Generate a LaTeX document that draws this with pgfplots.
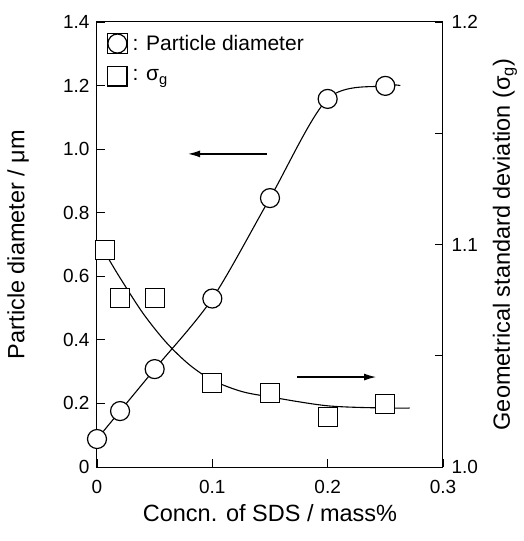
\documentclass[border=0pt]{standalone}
\usepackage{fontspec}
\setmainfont{Liberation Sans}
\usepackage{pgfplots}
\pgfplotsset{compat=1.18}
\usetikzlibrary{arrows.meta}
\begin{document}
\begin{tikzpicture}
\pgfplotsset{
  common/.style={
    scale only axis, width=346pt, height=445pt,
    xmin=0, xmax=0.3,
    tick align=inside, major tick length=8pt, minor tick length=8pt,
    every tick/.style={line width=0.9pt, black},
    axis line style={line width=1pt},
    ticklabel style={font=\fontsize{19}{19}\selectfont},
    label style={font=\fontsize{23.5}{23.5}\selectfont},
    /pgf/number format/assume math mode=true,
  }
}
\begin{axis}[common,
  ymin=0, ymax=1.4,
  xtick={0,0.1,0.2,0.3}, xticklabels={0,0.1,0.2,0.3},
  ytick={0,0.2,0.4,0.6,0.8,1.0,1.2,1.4},
  yticklabels={0,0.2,0.4,0.6,0.8,1.0,1.2,1.4},
  xtick pos=bottom, ytick pos=left,
  xticklabel style={yshift=-10pt},
  yticklabel style={xshift=-4pt},
  xlabel={Concn. of SDS / mass\%},
  ylabel={Particle diameter / μm},
  xlabel style={at={(axis description cs:0.5,-0.1034)}, anchor=center},
  ylabel style={at={(axis description cs:-0.228,0.5)}, anchor=center},
  legend style={at={(axis description cs:0.0289,0.9753)}, anchor=north west,
    draw=none, fill=none, font=\fontsize{21}{21}\selectfont,
    row sep=12pt, inner sep=0pt,
    /tikz/every odd column/.style={column sep=3pt}},
  legend image code/.code={\path (-10pt,-10pt) rectangle (10pt,10pt); \path[#1] plot coordinates {(0pt,0pt)};},
  legend cell align=left,
]
\addlegendimage{only marks, mark=*, mark size=9.5pt, mark options={fill=white, draw=black, line width=1.2pt}}
\addlegendentry{: Particle diameter}
\addlegendimage{only marks, mark=square*, mark size=9.5pt, mark options={fill=white, draw=black, line width=1.2pt}}
\addlegendentry{: σ\textsubscript{g}}
\addplot[black, line width=1.1pt, smooth, forget plot] coordinates {
(0,0.088) (0.02,0.176) (0.05,0.308) (0.1,0.53) (0.15,0.846) (0.2,1.158) (0.25,1.199) (0.263,1.2)};
\addplot[only marks, mark=*, mark size=9.5pt, mark options={fill=white, draw=black, line width=1.2pt}, forget plot] coordinates {
(0,0.088) (0.02,0.176) (0.05,0.308) (0.1,0.53) (0.15,0.846) (0.2,1.158) (0.25,1.199)};
\draw[line width=1.2pt, -{Latex[length=12pt,width=7pt]}] (axis cs:0.1474,0.985) -- (axis cs:0.079,0.985);
\draw[line width=1.2pt, -{Latex[length=12pt,width=7pt]}] (axis cs:0.1735,0.283) -- (axis cs:0.242,0.283);
\end{axis}
\begin{axis}[common,
  ymin=1, ymax=1.2,
  axis x line=none, axis y line*=right,
  ytick={1,1.1,1.2}, yticklabels={1.0,1.1,1.2},
  minor ytick={1.05,1.15},
  yticklabel style={xshift=5pt},
  ylabel={Geometrical standard deviation (σ\textsubscript{g})},
  ylabel style={at={(axis description cs:1.179,0.5)}, anchor=center},
]
\addplot[black, line width=1.1pt, smooth] coordinates {
(0.009,1.0945) (0.02,1.085) (0.04,1.069) (0.06,1.056) (0.08,1.046) (0.1,1.039) (0.125,1.034) (0.15,1.0315) (0.2,1.0275) (0.25,1.0265) (0.271,1.0265)};
\addplot[only marks, mark=square*, mark size=9.5pt, mark options={fill=white, draw=black, line width=1.2pt}] coordinates {
(0.007,1.0975) (0.02,1.076) (0.05,1.076) (0.1,1.0378) (0.15,1.0333) (0.2,1.0225) (0.25,1.0283)};
\end{axis}
\path (-97pt,-74pt) rectangle (427pt,467pt);
\end{tikzpicture}
\end{document}
